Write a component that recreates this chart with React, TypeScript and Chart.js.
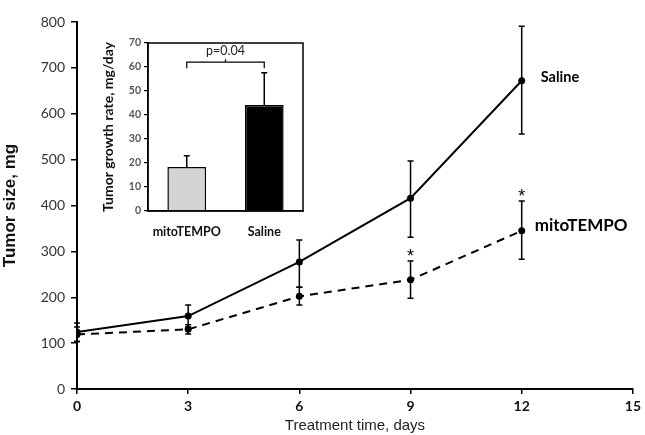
import React, { useEffect, useRef } from "react";
import { Chart, registerables } from "chart.js";
Chart.register(...registerables);

// ---- main chart data ----
const days = [0, 3, 6, 9, 12];
const salineMean = [124, 159, 277, 416, 672];
const salineUpper = [144, 183, 325, 497, 791];
const salineLower = [103, 135, 222, 331, 556];
const mitoMean = [119, 130, 202, 238, 345];
const mitoUpper = [135, 140, 222, 279, 410];
const mitoLower = [104, 120, 183, 198, 283];
const starDays = [9, 12];
const seriesNames = ["Saline", "mitoTEMPO"];
const xTickValues = [0, 3, 6, 9, 12, 15];
const yTickValues = [0, 100, 200, 300, 400, 500, 600, 700, 800];

// ---- inset data ----
const groups = ["mitoTEMPO", "Saline"];
const rates = [18.3, 44.2];
const rateErr = [4.7, 13.4];
const insetYTicks = [0, 10, 20, 30, 40, 50, 60, 70];
const pText = "p=0.04";

const FONT = "Lato, 'Open Sans', sans-serif";
const ARIAL = "'Liberation Sans', Arial, sans-serif";

const mainPlugin = {
  id: "mainAnnot",
  afterDatasetsDraw(chart: any) {
    const { ctx, scales } = chart;
    const xs = scales.x, ys = scales.y;
    ctx.save();
    ctx.strokeStyle = "#000";
    ctx.lineWidth = 1.5;
    const drawErr = (up: number[], lo: number[]) => {
      days.forEach((d, i) => {
        const x = xs.getPixelForValue(d);
        const y1 = ys.getPixelForValue(up[i]);
        const y2 = ys.getPixelForValue(lo[i]);
        ctx.beginPath();
        ctx.moveTo(x, y1); ctx.lineTo(x, y2);
        ctx.moveTo(x - 3, y1); ctx.lineTo(x + 3, y1);
        ctx.moveTo(x - 3, y2); ctx.lineTo(x + 3, y2);
        ctx.stroke();
      });
    };
    drawErr(salineUpper, salineLower);
    drawErr(mitoUpper, mitoLower);
    ctx.fillStyle = "#000";
    ctx.font = "18px " + ARIAL;
    ctx.textAlign = "center";
    ctx.textBaseline = "alphabetic";
    starDays.forEach((d) => {
      const i = days.indexOf(d);
      ctx.fillText("*", xs.getPixelForValue(d), ys.getPixelForValue(mitoUpper[i]) + 1);
    });
    const last = days.length - 1;
    ctx.textAlign = "left";
    ctx.textBaseline = "middle";
    ctx.font = "bold 14.5px " + FONT;
    ctx.fillText(seriesNames[0], xs.getPixelForValue(days[last]) + 19, ys.getPixelForValue(salineMean[last]) - 3);
    ctx.font = "bold 17px " + FONT;
    ctx.fillText(seriesNames[1], xs.getPixelForValue(days[last]) + 13, ys.getPixelForValue(mitoMean[last]) - 5);
    ctx.restore();
  },
};

const insetPlugin = {
  id: "insetAnnot",
  afterDatasetsDraw(chart: any) {
    const { ctx, scales, chartArea } = chart;
    const xs = scales.x, ys = scales.y;
    ctx.save();
    ctx.strokeStyle = "#000";
    ctx.lineWidth = 1.5;
    ctx.strokeRect(chartArea.left, chartArea.top, chartArea.right - chartArea.left, chartArea.bottom - chartArea.top);
    rates.forEach((r, i) => {
      const x = xs.getPixelForValue(i);
      const y0 = ys.getPixelForValue(r);
      const y1 = ys.getPixelForValue(r + rateErr[i]);
      ctx.beginPath();
      ctx.moveTo(x, y0); ctx.lineTo(x, y1);
      ctx.moveTo(x - 3, y1); ctx.lineTo(x + 3, y1);
      ctx.stroke();
    });
    const xa = xs.getPixelForValue(0), xb = xs.getPixelForValue(1);
    const yt = ys.getPixelForValue(62), yl = ys.getPixelForValue(59.5);
    ctx.lineWidth = 1.2;
    ctx.beginPath();
    ctx.moveTo(xa, yl); ctx.lineTo(xa, yt); ctx.lineTo(xb, yt); ctx.lineTo(xb, yl);
    ctx.moveTo((xa + xb) / 2, yt); ctx.lineTo((xa + xb) / 2, yt - 3);
    ctx.stroke();
    ctx.fillStyle = "#222";
    ctx.font = "12.5px " + FONT;
    ctx.textAlign = "center";
    ctx.textBaseline = "middle";
    ctx.fillText(pText, (xa + xb) / 2, ys.getPixelForValue(66.5));
    ctx.restore();
  },
};

export default function App() {
  const mainRef = useRef<HTMLCanvasElement>(null);
  const insetRef = useRef<HTMLCanvasElement>(null);

  useEffect(() => {
    const main = new Chart(mainRef.current!, {
      type: "line",
      data: {
        datasets: [
          {
            label: seriesNames[0],
            data: days.map((d, i) => ({ x: d, y: salineMean[i] })),
            borderColor: "#000",
            backgroundColor: "#000",
            borderWidth: 2,
            pointRadius: 3.5,
            pointBackgroundColor: "#000",
            pointBorderWidth: 0,
            tension: 0,
          },
          {
            label: seriesNames[1],
            data: days.map((d, i) => ({ x: d, y: mitoMean[i] })),
            borderColor: "#000",
            backgroundColor: "#000",
            borderWidth: 2,
            borderDash: [8, 6],
            pointRadius: 3.5,
            pointBackgroundColor: "#000",
            pointBorderWidth: 0,
            tension: 0,
          },
        ],
      },
      options: {
        animation: false,
        responsive: false,
        devicePixelRatio: 1,
        layout: { padding: { top: 22, right: 8, left: 0, bottom: 0 } },
        plugins: { legend: { display: false }, tooltip: { enabled: false } },
        scales: {
          x: {
            type: "linear",
            min: 0,
            max: 15,
            afterBuildTicks: (s: any) => { s.ticks = xTickValues.map((v) => ({ value: v })); },
            afterFit: (s: any) => { s.height = 46; },
            grid: { drawOnChartArea: false, drawTicks: true, tickLength: 5, color: "#000", lineWidth: 1.5 },
            border: { color: "#000", width: 2 },
            ticks: { color: "#111", font: { family: FONT, size: 14, weight: "bold" }, padding: 4 },
            title: { display: true, text: "Treatment time, days", color: "#222", font: { family: ARIAL, size: 15 }, padding: { top: 0, bottom: 0 } },
          },
          y: {
            min: 0,
            max: 800,
            afterBuildTicks: (s: any) => { s.ticks = yTickValues.map((v) => ({ value: v })); },
            afterFit: (s: any) => { s.width = 77; },
            grid: { drawOnChartArea: false, drawTicks: true, tickLength: 6, color: "#000", lineWidth: 1.5 },
            border: { color: "#000", width: 2 },
            ticks: { color: "#333", font: { family: FONT, size: 14 }, padding: 6 },
            title: { display: true, text: "Tumor size, mg", color: "#111", font: { family: ARIAL, size: 17, weight: "bold" }, padding: { top: 0, bottom: 4 } },
          },
        },
      },
      plugins: [mainPlugin],
    } as any);

    const inset = new Chart(insetRef.current!, {
      type: "bar",
      data: {
        labels: groups,
        datasets: [
          {
            data: rates,
            backgroundColor: ["#d4d4d4", "#000"],
            borderColor: "#000",
            borderWidth: 1.5,
            barPercentage: 0.5,
            categoryPercentage: 1,
          },
        ],
      },
      options: {
        animation: false,
        responsive: false,
        devicePixelRatio: 1,
        layout: { padding: { top: 13, right: 12, left: 0, bottom: 0 } },
        plugins: { legend: { display: false }, tooltip: { enabled: false } },
        scales: {
          x: {
            afterFit: (s: any) => { s.height = 34; },
            grid: { display: false },
            border: { color: "#000", width: 1.5 },
            ticks: { color: "#111", font: { family: FONT, size: 12.5, weight: "bold" }, padding: 5 },
          },
          y: {
            min: 0,
            max: 70,
            afterBuildTicks: (s: any) => { s.ticks = insetYTicks.map((v) => ({ value: v })); },
            afterFit: (s: any) => { s.width = 48; },
            grid: { drawOnChartArea: false, drawTicks: true, tickLength: 4, color: "#000", lineWidth: 1.2 },
            border: { color: "#000", width: 1.5 },
            ticks: { color: "#555", font: { family: FONT, size: 10.5, weight: "bold" }, padding: 3 },
            title: { display: true, text: "Tumor growth rate, mg/day", color: "#111", font: { family: FONT, size: 14, weight: "bold" }, padding: { top: 0, bottom: 2 } },
          },
        },
      },
      plugins: [insetPlugin],
    } as any);

    return () => {
      main.destroy();
      inset.destroy();
    };
  }, []);

  return (
    <div style={{ position: "fixed", left: 0, top: 0, width: 645, height: 435, background: "#fff" }}>
      <canvas ref={mainRef} width={645} height={435} style={{ position: "absolute", left: 0, top: 0 }} />
      <canvas ref={insetRef} width={215} height={215} style={{ position: "absolute", left: 100, top: 30 }} />
    </div>
  );
}
